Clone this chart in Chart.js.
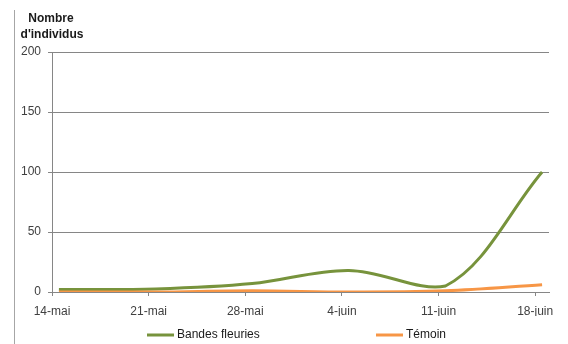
<!DOCTYPE html>
<html>
<head>
<meta charset="utf-8">
<script src="https://cdn.jsdelivr.net/npm/chart.js@4.4.1/dist/chart.umd.min.js"></script>
<style>
  html, body { margin: 0; padding: 0; background: #fff; }
  #wrap { width: 568px; height: 344px; }
</style>
</head>
<body>
<div id="wrap"><canvas id="courbe"></canvas></div>
<script>
var dates = ['14-mai', '21-mai', '28-mai', '4-juin', '11-juin', '18-juin'];
var bandesFleuries = [2, 2.5, 7, 18, 5, 100];
var temoin = [0, 0, 1, 0, 1, 6];
var yTicks = [0, 50, 100, 150, 200];
var titre = ['Nombre', "d'individus"];

// one count per week, each point sits in the middle of its day
function points(values) {
    return values.map(function(v, i) { return {x: i * 7 + 0.5, y: v}; });
}

Chart.defaults.font.family = "'Liberation Sans', Arial, sans-serif";
Chart.defaults.font.size = 12;
Chart.defaults.color = '#404040';

// title above the axis, legend at the bottom, frame line on the left
var decor = {
    id: 'decor',
    afterDraw: function(chart) {
        var c = chart.ctx;
        c.save();
        c.strokeStyle = '#a6a6a6';
        c.lineWidth = 1;
        c.beginPath();
        c.moveTo(14.5, 10);
        c.lineTo(14.5, 344);
        c.stroke();

        c.fillStyle = '#1a1a1a';
        c.font = "bold 12px 'Liberation Sans', Arial, sans-serif";
        c.textAlign = 'center';
        c.textBaseline = 'middle';
        c.fillText(titre[0], 51, 19);
        c.fillText(titre[1], 52, 35);

        var starts = [147, 376];
        c.font = "12px 'Liberation Sans', Arial, sans-serif";
        c.textAlign = 'left';
        chart.data.datasets.forEach(function(ds, i) {
            var x = starts[i];
            c.strokeStyle = ds.borderColor;
            c.lineWidth = 3;
            c.beginPath();
            c.moveTo(x, 335);
            c.lineTo(x + 27, 335);
            c.stroke();
            c.fillStyle = '#1a1a1a';
            c.fillText(ds.label, x + 30, 335);
        });
        c.restore();
    }
};

new Chart(document.getElementById('courbe'), {
    type: 'line',
    data: {
        datasets: [{
            label: 'Bandes fleuries',
            data: points(bandesFleuries),
            borderColor: '#77933c',
            borderWidth: 3,
            pointRadius: 0,
            tension: 0.35,
            order: 1
        }, {
            label: 'Témoin',
            data: points(temoin),
            borderColor: '#f79646',
            borderWidth: 3,
            pointRadius: 0,
            tension: 0.35,
            order: 0
        }]
    },
    options: {
        responsive: true,
        maintainAspectRatio: false,
        animation: false,
        layout: { padding: { top: 52, right: 19, bottom: 28, left: 0 } },
        plugins: {
            legend: { display: false },
            tooltip: { enabled: false }
        },
        scales: {
            x: {
                type: 'linear',
                min: 0,
                max: 36,
                afterBuildTicks: function(scale) {
                    scale.ticks = dates.map(function(d, i) { return {value: i * 7}; });
                },
                afterFit: function(scale) { scale.height = 24; },
                ticks: {
                    autoSkip: false,
                    maxRotation: 0,
                    padding: 8,
                    callback: function(value, index) { return dates[index]; }
                },
                grid: { drawOnChartArea: false, tickLength: 4, color: '#868686' },
                border: { color: '#868686' }
            },
            y: {
                min: 0,
                max: 200,
                afterBuildTicks: function(scale) {
                    scale.ticks = yTicks.map(function(v) { return {value: v}; });
                },
                afterFit: function(scale) { scale.width = 52; },
                ticks: { padding: 7 },
                grid: { tickLength: 4, color: '#868686' },
                border: { color: '#868686' }
            }
        }
    },
    plugins: [decor]
});
</script>
</body>
</html>
